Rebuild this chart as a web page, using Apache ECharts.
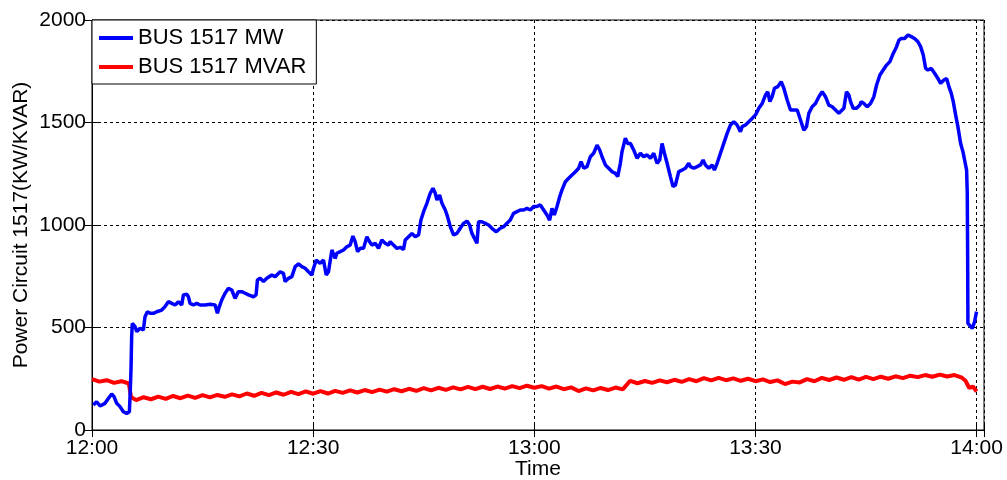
<!DOCTYPE html>
<html><head><meta charset="utf-8">
<script src="https://cdn.jsdelivr.net/npm/echarts@6/dist/echarts.min.js"></script>
<style>html,body{margin:0;padding:0;background:#fff}#c{width:1007px;height:480px}</style>
</head><body><div id="c"></div>
<script>
const xTicks = [0, 30, 60, 90, 120];
const xTickLabels = ['12:00', '12:30', '13:00', '13:30', '14:00'];
const seriesNames = ['BUS 1517 MW', 'BUS 1517 MVAR'];

// minutes after 12:00
const mwTime = [0.18,0.63,1.09,1.76,2.22,2.67,2.99,3.35,3.80,4.25,4.71,5.07,5.16,5.29,5.38,5.47,5.84,6.07,6.52,6.97,7.19,7.51,7.87,8.33,8.78,9.46,9.91,10.36,10.82,11.27,11.72,12.17,12.40,12.85,13.08,13.30,13.76,14.21,14.66,15.34,16.02,16.70,17.01,17.28,17.60,18.05,18.51,18.96,19.41,19.86,20.30,20.77,21.22,21.90,22.26,22.44,22.81,23.26,23.71,24.39,24.84,25.52,25.97,26.20,26.65,27.11,27.56,28.01,28.46,28.91,29.37,29.82,30.05,30.41,30.95,31.40,31.77,32.08,32.54,32.99,33.21,33.67,34.12,34.57,35.02,35.39,35.70,36.02,36.38,36.83,37.29,37.51,37.96,38.42,38.87,39.32,39.77,40.23,40.45,40.90,41.36,41.81,42.26,42.49,42.94,43.40,43.85,44.30,44.62,44.98,45.43,45.88,46.25,46.56,46.79,47.15,47.47,47.92,48.23,48.60,49.05,49.50,49.95,50.41,50.86,51.22,51.54,51.99,52.22,52.44,52.90,53.35,53.80,54.25,54.84,55.38,55.84,56.29,56.74,57.19,57.65,58.10,58.55,59.00,59.46,59.91,60.36,60.81,61.27,61.72,62.08,62.40,62.71,63.08,63.44,63.76,64.21,64.66,65.11,65.57,66.02,66.34,66.70,67.15,67.60,68.05,68.51,68.87,69.19,69.64,70.09,70.55,71.00,71.31,71.67,71.90,72.35,72.67,73.03,73.48,73.94,74.39,74.84,75.30,75.75,76.20,76.65,77.01,77.33,77.65,78.01,78.46,78.82,79.14,79.59,80.05,80.50,80.95,81.18,81.63,82.09,82.54,82.90,83.21,83.67,84.12,84.43,84.80,85.25,85.70,86.16,86.61,87.06,87.51,87.96,88.19,88.64,89.10,89.55,90.00,90.45,90.91,91.36,91.67,91.95,92.26,92.58,93.03,93.49,93.85,94.30,94.75,95.20,95.66,96.11,96.56,96.92,97.24,97.69,98.14,98.60,99.05,99.50,99.95,100.41,100.86,101.31,101.54,101.99,102.35,102.67,102.90,103.26,103.71,104.16,104.34,104.70,105.16,105.61,106.06,106.43,106.88,107.33,107.78,108.24,108.69,109.14,109.46,109.78,110.23,110.68,111.13,111.58,112.04,112.40,112.76,113.08,113.39,113.85,114.30,114.75,115.11,115.57,115.93,116.24,116.56,116.83,117.15,117.46,117.83,118.14,118.37,118.64,118.73,118.78,118.82,119.09,119.41,119.72,119.99];
const mwValue = [122,138,117,130,154,176,163,130,114,89,81,89,163,293,455,520,504,480,496,488,553,577,569,569,577,585,602,626,618,610,626,610,659,663,650,618,610,618,610,610,613,610,569,602,634,667,691,683,642,675,675,667,659,650,659,732,740,724,740,756,748,772,764,724,740,748,797,810,797,789,772,756,789,829,813,829,756,772,878,837,862,870,878,894,902,946,919,870,886,886,943,927,902,911,886,927,911,902,919,902,886,891,881,927,943,959,943,951,1024,1065,1106,1155,1179,1155,1122,1146,1106,1073,1041,992,951,959,984,1008,1019,1000,959,927,911,1016,1016,1008,1000,984,967,984,992,1008,1024,1057,1065,1073,1073,1081,1073,1090,1090,1098,1073,1049,1024,1081,1049,1090,1138,1171,1211,1228,1244,1260,1277,1309,1277,1285,1333,1350,1390,1366,1333,1293,1277,1260,1252,1236,1301,1358,1423,1398,1398,1366,1325,1350,1333,1342,1325,1350,1301,1317,1398,1350,1301,1236,1187,1195,1260,1268,1277,1301,1285,1277,1285,1293,1317,1293,1277,1293,1268,1301,1350,1398,1447,1488,1504,1488,1455,1480,1488,1504,1520,1537,1569,1593,1634,1650,1602,1626,1667,1675,1699,1667,1610,1561,1561,1561,1512,1463,1480,1545,1577,1593,1626,1650,1626,1585,1577,1561,1545,1553,1569,1650,1634,1602,1569,1569,1585,1602,1593,1577,1593,1626,1683,1732,1756,1780,1797,1837,1870,1902,1910,1910,1927,1919,1910,1894,1870,1829,1764,1756,1764,1740,1715,1691,1707,1715,1675,1642,1602,1537,1480,1398,1358,1317,1268,1155,862,520,512,496,528,577];

const mvarTime = [0,1,2,3,4,5,5.2,5.3,6,7,8,9,10,11,12,13,14,15,16,17,18,19,20,21,22,23,24,25,26,27,28,29,30,31,32,33,34,35,36,37,38,39,40,41,42,43,44,45,46,47,48,49,50,51,52,53,54,55,56,57,58,59,60,61,62,63,64,65,66,67,68,69,70,71,72,73,74,75,76,77,78,79,80,81,82,83,84,85,86,87,88,89,90,91,92,93,94,95,96,97,98,99,100,101,102,103,104,105,106,107,108,109,110,111,112,113,114,115,116,117,118,118.5,119,119.5,120];
const mvarValue = [248,236,243,230,238,227,232,160,146,160,150,163,152,166,155,168,157,170,159,171,162,174,164,178,167,181,170,183,172,186,175,188,177,190,178,191,181,193,183,195,185,197,187,199,189,201,191,204,193,206,196,208,198,210,199,211,200,212,202,214,204,216,206,214,202,212,199,208,190,203,193,205,195,207,198,240,228,239,230,242,233,245,235,248,238,253,242,254,243,252,240,250,238,247,234,242,224,236,232,248,238,254,244,256,245,258,246,259,248,260,250,262,253,265,258,268,260,270,261,268,255,240,205,212,188];

const font = "'Liberation Sans', Arial, sans-serif";
const mwData = mwTime.map((t, i) => [t, mwValue[i]]);
const mvarData = mvarTime.map((t, i) => [t, mvarValue[i]]);

const chart = echarts.init(document.getElementById('c'));
const gridDash = { show: true, lineStyle: { color: '#000', width: 1, type: [3, 3] } };
chart.setOption({
  animation: false,
  backgroundColor: '#fff',
  textStyle: { fontFamily: font },
  grid: { left: 92, right: 23, top: 20, bottom: 50, outerBoundsMode: 'none', containLabel: false,
    show: true, borderColor: '#000', borderWidth: 1, backgroundColor: 'transparent' },
  legend: {
    data: [{ name: seriesNames[0], icon: 'rect' }, { name: seriesNames[1], icon: 'rect' }],
    orient: 'vertical', left: 92, top: 20,
    backgroundColor: '#fff', borderColor: '#000', borderWidth: 1,
    padding: [7, 10, 6, 7], itemGap: 7, itemWidth: 34, itemHeight: 4,
    textStyle: { fontSize: 22, color: '#000', fontFamily: font }
  },
  xAxis: [{
    type: 'value', min: 0, max: 121, interval: 30,
    name: 'Time', nameLocation: 'middle', nameGap: 29, nameMoveOverlap: false,
    nameTextStyle: { fontSize: 21, color: '#000', fontFamily: font },
    axisLine: { show: true, lineStyle: { color: '#000', width: 1 } },
    axisTick: { show: true, inside: true, length: 7, lineStyle: { color: '#000' } },
    axisLabel: { fontSize: 21, color: '#000', margin: 8, fontFamily: font,
      formatter: v => { const i = xTicks.indexOf(v); return i >= 0 ? xTickLabels[i] : ''; } },
    splitLine: gridDash
  }, {
    type: 'value', position: 'top', min: 0, max: 121, interval: 30,
    axisLine: { show: true, lineStyle: { color: '#000' } },
    axisTick: { show: true, inside: true, length: 7, lineStyle: { color: '#000' } },
    axisLabel: { show: false }, splitLine: { show: false }
  }],
  yAxis: [{
    type: 'value', min: 0, max: 2000, interval: 500,
    name: 'Power Circuit 1517(KW/KVAR)', nameLocation: 'middle', nameGap: 60, nameMoveOverlap: false,
    nameTextStyle: { fontSize: 21, color: '#000', fontFamily: font },
    axisLine: { show: true, lineStyle: { color: '#000', width: 1 } },
    axisTick: { show: true, inside: true, length: 7, lineStyle: { color: '#000' } },
    axisLabel: { fontSize: 21, color: '#000', margin: 6, fontFamily: font, formatter: v => String(v) },
    splitLine: gridDash
  }, {
    type: 'value', position: 'right', min: 0, max: 2000, interval: 500,
    axisLine: { show: true, lineStyle: { color: '#000' } },
    axisTick: { show: true, inside: true, length: 7, lineStyle: { color: '#000' } },
    axisLabel: { show: false }, splitLine: { show: false }
  }],
  series: [{
    name: seriesNames[0], type: 'line', data: mwData, symbol: 'none',
    lineStyle: { color: '#0000ff', width: 3.5 }, itemStyle: { color: '#0000ff' }, z: 3
  }, {
    name: seriesNames[1], type: 'line', data: mvarData, symbol: 'none',
    lineStyle: { color: '#ff0000', width: 4 }, itemStyle: { color: '#ff0000' }, z: 2
  }]
});
</script>
</body></html>
